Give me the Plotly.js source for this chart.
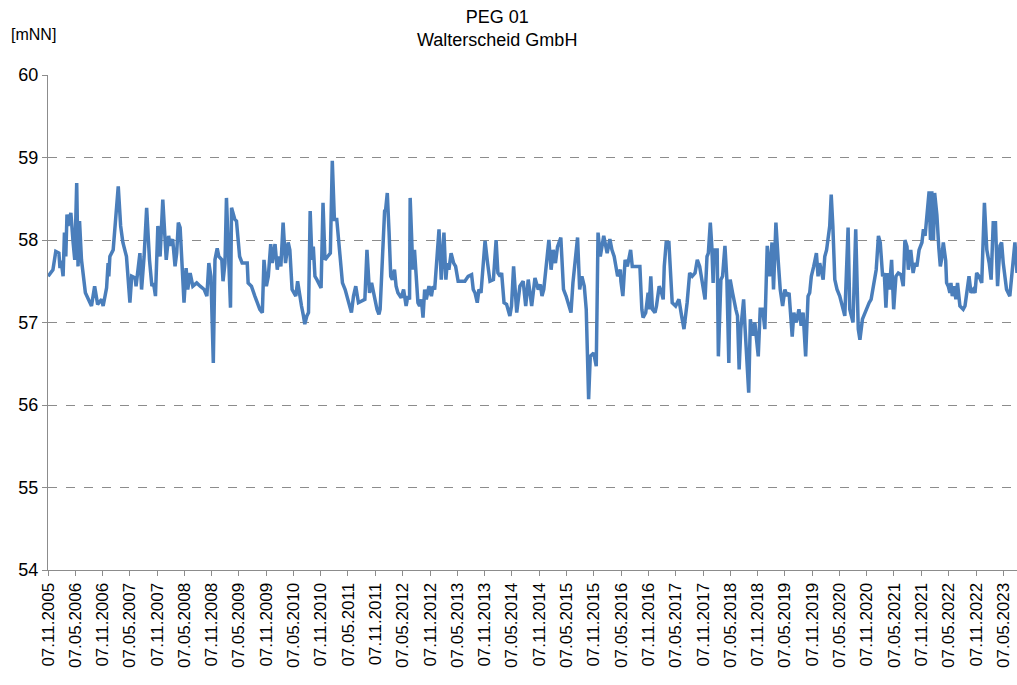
<!DOCTYPE html>
<html>
<head>
<meta charset="utf-8">
<script src="https://cdn.plot.ly/plotly-3.0.1.min.js"></script>
<style>
  html, body { margin: 0; padding: 0; background: #fff; }
  #chart { width: 1017px; height: 685px; }
</style>
</head>
<body>
<div id="chart"></div>
<script>
// Grundwasserstand PEG 01, Messdatum / Wasserstand [mNN]
var dates = [
  "2005-11-08", "2005-12-10", "2005-12-29",
  "2006-01-19", "2006-01-26", "2006-02-03", "2006-02-16", "2006-02-25", "2006-03-06", "2006-03-14", "2006-03-21", "2006-04-09", "2006-04-24", "2006-05-05", "2006-05-18", "2006-05-27", "2006-06-06", "2006-06-19", "2006-07-15", "2006-08-25", "2006-09-15", "2006-10-05", "2006-11-01", "2006-11-11", "2006-12-04", "2006-12-14", "2006-12-19", "2006-12-26",
  "2007-01-17", "2007-02-03", "2007-02-20", "2007-03-08", "2007-03-23", "2007-04-16", "2007-05-09", "2007-05-21", "2007-06-13", "2007-06-19", "2007-07-05", "2007-07-15", "2007-07-26", "2007-08-12", "2007-08-29", "2007-09-17", "2007-10-03", "2007-10-14", "2007-10-27", "2007-11-12", "2007-11-27", "2007-12-15",
  "2008-01-07", "2008-01-23", "2008-02-03", "2008-02-19", "2008-03-06", "2008-03-17", "2008-03-28", "2008-04-09", "2008-05-05", "2008-05-19", "2008-05-30", "2008-06-15", "2008-07-03", "2008-07-29", "2008-08-21", "2008-09-17", "2008-10-05", "2008-10-18", "2008-11-01", "2008-11-17", "2008-11-28", "2008-12-13", "2008-12-24",
  "2009-01-13", "2009-01-21", "2009-02-03", "2009-02-13", "2009-02-26", "2009-03-12", "2009-03-19", "2009-04-10", "2009-04-21", "2009-05-12", "2009-05-29", "2009-07-02", "2009-07-08", "2009-07-30", "2009-08-22", "2009-09-08", "2009-09-24", "2009-10-11", "2009-10-22", "2009-11-07", "2009-11-20", "2009-12-06", "2009-12-16",
  "2010-01-04", "2010-01-19", "2010-01-30", "2010-02-12", "2010-02-27", "2010-03-15", "2010-04-02", "2010-04-13", "2010-04-28", "2010-05-23", "2010-06-04", "2010-06-14", "2010-06-30", "2010-07-13", "2010-07-22", "2010-08-05", "2010-08-16", "2010-08-27", "2010-09-08", "2010-09-17", "2010-09-28", "2010-10-11", "2010-11-08", "2010-11-21", "2010-12-04", "2010-12-22",
  "2011-01-09", "2011-01-22", "2011-02-05", "2011-02-21", "2011-03-08", "2011-03-31", "2011-04-18", "2011-05-14", "2011-05-30", "2011-06-13", "2011-06-28", "2011-07-16", "2011-08-12", "2011-08-28", "2011-09-11", "2011-09-28", "2011-10-12", "2011-10-25", "2011-11-17", "2011-11-30", "2011-12-08", "2011-12-26",
  "2012-01-07", "2012-01-14", "2012-01-25", "2012-02-06", "2012-02-17", "2012-02-28", "2012-03-13", "2012-03-24", "2012-04-05", "2012-04-27", "2012-05-13", "2012-05-30", "2012-06-11", "2012-06-22", "2012-06-26", "2012-07-14", "2012-07-25", "2012-08-17", "2012-08-28", "2012-09-09", "2012-09-20", "2012-10-01", "2012-10-12", "2012-10-30", "2012-11-15", "2012-11-26", "2012-12-07",
  "2013-01-05", "2013-01-20", "2013-02-07", "2013-02-20", "2013-03-01", "2013-03-12", "2013-03-27", "2013-04-13", "2013-04-26", "2013-05-13", "2013-06-05", "2013-06-27", "2013-07-19", "2013-08-11", "2013-08-22", "2013-09-03", "2013-09-18", "2013-09-29", "2013-10-13", "2013-11-09", "2013-11-26", "2013-12-12",
  "2014-01-04", "2014-01-22", "2014-02-03", "2014-02-18", "2014-02-28", "2014-03-16", "2014-04-02", "2014-04-24", "2014-05-05", "2014-05-19", "2014-06-09", "2014-06-30", "2014-07-22", "2014-08-08", "2014-08-25", "2014-09-17", "2014-10-09", "2014-10-31", "2014-11-14", "2014-11-25", "2014-12-07", "2014-12-22",
  "2015-01-10", "2015-01-25", "2015-02-08", "2015-02-23", "2015-03-09", "2015-03-31", "2015-04-18", "2015-05-05", "2015-06-07", "2015-06-20", "2015-07-05", "2015-07-21", "2015-08-04", "2015-08-19", "2015-09-04", "2015-09-17", "2015-10-03", "2015-10-14", "2015-11-06", "2015-11-23", "2015-12-05", "2015-12-20",
  "2016-01-12", "2016-02-04", "2016-02-22", "2016-03-07", "2016-03-22", "2016-04-14", "2016-05-02", "2016-05-06", "2016-05-19", "2016-06-03", "2016-06-18", "2016-07-10", "2016-07-21", "2016-08-12", "2016-09-10", "2016-09-23", "2016-10-01", "2016-10-19", "2016-11-04", "2016-11-10", "2016-11-22", "2016-12-03", "2016-12-20", "2016-12-30",
  "2017-01-17", "2017-02-02", "2017-02-13", "2017-02-20", "2017-03-05", "2017-03-23", "2017-04-04", "2017-04-14", "2017-05-07", "2017-05-29", "2017-06-16", "2017-07-02", "2017-07-23", "2017-08-09", "2017-08-26", "2017-09-14", "2017-09-29", "2017-10-15", "2017-11-02", "2017-11-11", "2017-11-20", "2017-12-03", "2017-12-12", "2017-12-25",
  "2018-01-04", "2018-01-13", "2018-01-21", "2018-02-09", "2018-02-17", "2018-03-06", "2018-03-17", "2018-04-02", "2018-04-15", "2018-04-28", "2018-05-07", "2018-05-23", "2018-06-03", "2018-06-14", "2018-06-25", "2018-07-06", "2018-07-17", "2018-08-05", "2018-08-15", "2018-09-08", "2018-09-19", "2018-10-04", "2018-10-19", "2018-11-11", "2018-11-24", "2018-12-10", "2018-12-25",
  "2019-01-10", "2019-01-25", "2019-02-11", "2019-02-21", "2019-03-09", "2019-03-24", "2019-04-07", "2019-04-23", "2019-05-08", "2019-05-21", "2019-06-05", "2019-06-26", "2019-07-07", "2019-07-23", "2019-08-10", "2019-08-25", "2019-09-07", "2019-09-24", "2019-10-10", "2019-10-21", "2019-11-01", "2019-11-17", "2019-12-05", "2019-12-16", "2019-12-27",
  "2020-01-19", "2020-01-30", "2020-02-11", "2020-03-03", "2020-03-13", "2020-03-24", "2020-04-06", "2020-04-21", "2020-05-09", "2020-05-26", "2020-06-12", "2020-07-04", "2020-07-15", "2020-08-06", "2020-08-24", "2020-09-10", "2020-09-21", "2020-10-08", "2020-10-24", "2020-11-22", "2020-12-05", "2020-12-27",
  "2021-01-08", "2021-01-23", "2021-02-04", "2021-02-20", "2021-03-03", "2021-03-14", "2021-03-25", "2021-04-06", "2021-04-21", "2021-05-05", "2021-05-20", "2021-06-05", "2021-06-23", "2021-07-08", "2021-07-19", "2021-08-02", "2021-08-11", "2021-08-27", "2021-09-12", "2021-09-25", "2021-10-07", "2021-10-22", "2021-11-10", "2021-11-20", "2021-12-01", "2021-12-28",
  "2022-01-06", "2022-01-15", "2022-01-26", "2022-02-03", "2022-02-18", "2022-03-03", "2022-03-13", "2022-03-21", "2022-04-02", "2022-04-18", "2022-04-24", "2022-05-05", "2022-05-16", "2022-05-23", "2022-06-01", "2022-06-14", "2022-06-25", "2022-07-06", "2022-07-22", "2022-08-13", "2022-08-25", "2022-09-21", "2022-10-04", "2022-10-19", "2022-10-31", "2022-11-11", "2022-11-27", "2022-12-15",
  "2023-01-02", "2023-01-18", "2023-02-03", "2023-02-16", "2023-03-02", "2023-03-17", "2023-03-31", "2023-04-16", "2023-04-27", "2023-05-08", "2023-05-30", "2023-06-21", "2023-07-25", "2023-08-08"
];

var levels = [
  57.56, 57.64, 57.86,
  57.84, 57.66, 57.75, 57.56, 58.09, 57.80, 58.31, 58.17, 58.33, 57.97, 57.76, 58.69, 57.68, 58.23, 57.76, 57.36, 57.20, 57.44, 57.22, 57.28, 57.20, 57.42, 57.72, 57.56, 57.80,
  57.88, 58.29, 58.65, 58.17, 57.97, 57.80, 57.24, 57.56, 57.54, 57.44, 57.68, 57.84, 57.40, 57.80, 58.39, 57.76, 57.44, 57.48, 57.32, 58.17, 57.80, 58.49,
  57.76, 58.05, 57.93, 58.01, 57.68, 57.84, 58.21, 58.15, 57.24, 57.66, 57.40, 57.60, 57.44, 57.48, 57.44, 57.40, 57.32, 57.72, 57.56, 56.51, 57.76, 57.90, 57.80,
  57.76, 57.50, 57.72, 58.51, 57.72, 57.18, 58.39, 58.25, 58.23, 57.80, 57.72, 57.72, 57.48, 57.44, 57.32, 57.24, 57.16, 57.12, 57.76, 57.44, 57.56, 57.95, 57.72,
  57.95, 57.64, 57.80, 57.68, 58.21, 57.72, 57.97, 57.88, 57.40, 57.32, 57.50, 57.36, 57.20, 57.08, 56.98, 57.08, 57.12, 58.35, 57.76, 57.92, 57.56, 57.52, 57.42, 58.45, 57.76, 57.80,
  57.84, 58.96, 58.25, 58.25, 57.92, 57.48, 57.40, 57.20, 57.12, 57.32, 57.44, 57.24, 57.26, 57.28, 57.88, 57.36, 57.48, 57.36, 57.16, 57.10, 57.16, 57.88,
  58.35, 58.37, 58.57, 58.09, 57.56, 57.52, 57.64, 57.44, 57.36, 57.30, 57.40, 57.20, 57.32, 57.28, 58.51, 57.64, 57.88, 57.24, 57.20, 57.28, 57.06, 57.40, 57.28, 57.44, 57.32, 57.44, 57.40,
  58.13, 57.52, 58.09, 57.52, 57.72, 57.64, 57.84, 57.72, 57.68, 57.50, 57.50, 57.50, 57.56, 57.58, 57.40, 57.36, 57.24, 57.40, 57.36, 57.99, 57.72, 57.50,
  57.52, 58.00, 57.60, 57.56, 57.60, 57.24, 57.22, 57.08, 57.20, 57.68, 57.12, 57.44, 57.50, 57.20, 57.52, 57.20, 57.54, 57.40, 57.46, 57.32, 57.40, 57.72,
  58.00, 57.64, 57.88, 57.72, 57.92, 58.03, 57.40, 57.32, 57.12, 57.48, 57.76, 58.03, 57.40, 57.56, 57.44, 57.16, 56.07, 56.59, 56.63, 56.47, 58.09, 57.80,
  58.05, 57.84, 58.01, 57.88, 57.80, 57.56, 57.64, 57.50, 57.32, 57.76, 57.68, 57.88, 57.68, 57.68, 57.68, 57.16, 57.06, 57.12, 57.36, 57.16, 57.56, 57.16, 57.12, 57.20,
  57.44, 57.36, 57.28, 57.68, 57.97, 57.97, 57.56, 57.24, 57.20, 57.28, 57.08, 56.92, 57.24, 57.60, 57.56, 57.60, 57.76, 57.68, 57.48, 57.36, 57.28, 57.80, 57.84, 58.21,
  57.93, 57.48, 57.88, 57.88, 56.59, 57.52, 57.56, 57.93, 57.52, 56.51, 57.52, 57.36, 57.24, 57.16, 57.08, 56.43, 56.92, 57.28, 56.92, 56.15, 57.04, 56.84, 57.00, 56.59, 57.16, 57.16, 56.92,
  57.93, 57.56, 57.97, 57.40, 58.21, 57.76, 57.40, 57.20, 57.40, 57.32, 57.36, 56.83, 57.12, 57.00, 57.16, 56.96, 57.12, 56.59, 57.32, 57.36, 57.56, 57.68, 57.84, 57.56, 57.72,
  57.52, 57.80, 57.88, 58.17, 58.55, 58.17, 57.52, 57.40, 57.32, 57.20, 57.08, 58.15, 57.16, 57.00, 58.13, 56.92, 56.79, 57.04, 57.12, 57.24, 57.28, 57.52,
  57.64, 58.05, 57.97, 57.56, 57.60, 57.18, 57.60, 57.40, 57.76, 57.16, 57.56, 57.60, 57.58, 57.44, 58.00, 57.92, 57.64, 57.88, 57.60, 57.72, 57.68, 57.88, 57.97, 58.13, 58.05, 58.59,
  58.00, 58.59, 58.00, 58.57, 58.30, 57.90, 57.68, 57.76, 57.97, 57.75, 57.48, 57.44, 57.36, 57.48, 57.32, 57.44, 57.28, 57.48, 57.20, 57.16, 57.20, 57.56, 57.36, 57.40, 57.36, 57.60, 57.56, 57.48,
  58.45, 57.88, 57.72, 57.52, 58.21, 58.21, 57.44, 57.93, 57.97, 57.72, 57.40, 57.32, 57.97, 57.60
];

var xRange = ["2005-11-07", "2023-08-08"];
var yRange = [54, 60];

var data = [
  {
    x: dates,
    y: levels,
    type: "scatter",
    mode: "lines",
    name: "PEG 01",
    line: { color: "#4a7ebb", width: 3.5 },
    hoverinfo: "x+y",
  },
];

var layout = {
  width: 1017,
  height: 685,
  margin: { l: 48, r: 0, t: 75, b: 115 },
  paper_bgcolor: "#ffffff",
  plot_bgcolor: "#ffffff",
  showlegend: false,
  font: { family: "Liberation Sans, Arial, sans-serif", size: 18, color: "#000000" },
  xaxis: {
    type: "date",
    range: xRange,
    tick0: "2005-11-07",
    dtick: "M6",
    tickformat: "%d.%m.%Y",
    tickangle: -90,
    showgrid: false,
    showline: true,
    linecolor: "#8c8c8c",
    linewidth: 1,
    ticks: "outside",
    ticklen: 5,
    tickcolor: "#8c8c8c",
    tickfont: { size: 17 },
    zeroline: false,
  },
  yaxis: {
    range: yRange,
    dtick: 1,
    showgrid: true,
    gridcolor: "#8c8c8c",
    griddash: "dash",
    gridwidth: 1,
    showline: true,
    linecolor: "#8c8c8c",
    linewidth: 1,
    ticks: "outside",
    ticklen: 5,
    tickcolor: "#8c8c8c",
    tickfont: { size: 18 },
    zeroline: false,
  },
  annotations: [
    {
      // Titel
      text: "PEG 01<br>Walterscheid GmbH",
      xref: "paper",
      yref: "paper",
      x: 0.463,
      y: 1.094,
      xanchor: "center",
      yanchor: "middle",
      align: "center",
      showarrow: false,
      font: { size: 18 },
    },
    {
      text: "[mNN]",
      xref: "paper",
      yref: "paper",
      x: -0.04,
      y: 1.081,
      xanchor: "left",
      yanchor: "middle",
      showarrow: false,
      font: { size: 16 },
    },
  ],
};

var config = { displayModeBar: false, responsive: false };

Plotly.newPlot("chart", data, layout, config);
</script>
</body>
</html>
